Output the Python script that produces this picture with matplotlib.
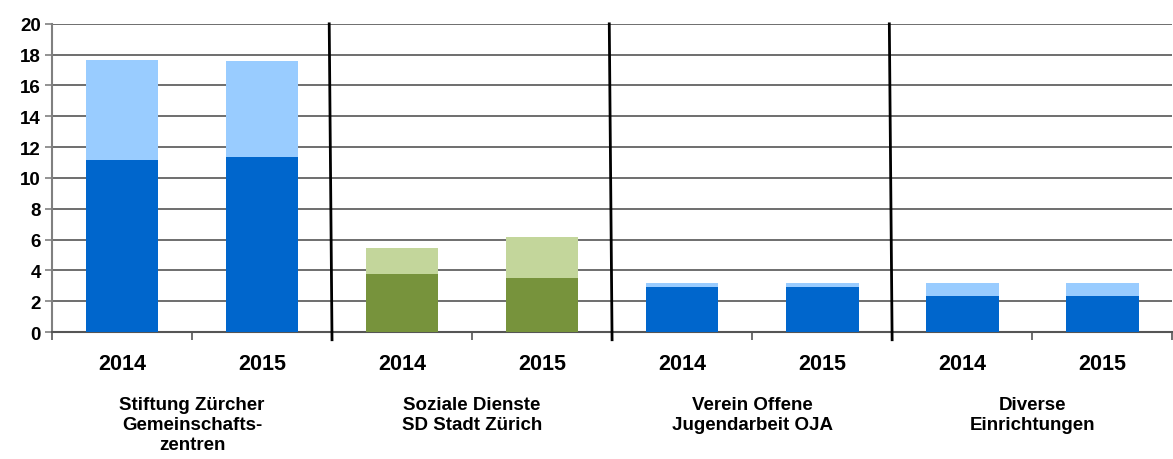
import numpy as np
import matplotlib
matplotlib.use('Agg')
import matplotlib.pyplot as plt

plt.rcParams['font.family'] = ['Liberation Sans', 'DejaVu Sans']
plt.rcParams['font.weight'] = 'bold'

groups = ['Stiftung Zürcher\nGemeinschafts-\nzentren',
          'Soziale Dienste\nSD Stadt Zürich',
          'Verein Offene\nJugendarbeit OJA',
          'Diverse\nEinrichtungen']
years = ['2014', '2015']
# lower and total values per bar (in order of groups, years)
lower = [11.15, 11.35, 3.75, 3.5, 2.92, 2.92, 2.37, 2.35]
total = [17.65, 17.62, 5.45, 6.15, 3.2, 3.2, 3.18, 3.18]

dark = ['#0066CC', '#0066CC', '#77933C', '#77933C', '#0066CC', '#0066CC', '#0066CC', '#0066CC']
light = ['#99CCFF', '#99CCFF', '#C3D69B', '#C3D69B', '#99CCFF', '#99CCFF', '#99CCFF', '#99CCFF']

lower = np.array(lower)
total = np.array(total)
upper = total - lower
x = np.arange(len(lower))

fig = plt.figure(figsize=(11.73, 4.6), dpi=100, facecolor='w')
ax = fig.add_axes([0.0443, 0.276, 0.955, 0.67])

ax.bar(x, lower, width=0.52, color=dark, zorder=3)
ax.bar(x, upper, bottom=lower, width=0.52, color=light, zorder=3)

ax.set_xlim(-0.5, len(x) - 0.5)
ax.set_ylim(0, 20)
ax.set_yticks(np.arange(0, 21, 2))
ax.yaxis.grid(True, color='#555555', linewidth=1.2, zorder=0)
ax.tick_params(axis='y', labelsize=13.5, length=5, color='#808080', width=1.2, pad=3)

for s in ['top', 'right']:
    ax.spines[s].set_visible(False)
ax.spines['left'].set_color('#808080')
ax.spines['bottom'].set_color('#555555')
ax.spines['left'].set_linewidth(1.5)
ax.spines['bottom'].set_linewidth(1.5)

ax.set_xticks(x)
ax.set_xticklabels(years * len(groups), fontsize=15.5)
ax.tick_params(axis='x', length=0, pad=15)
ax.set_xticks(np.arange(-0.5, len(x), 1), minor=True)
ax.tick_params(axis='x', which='minor', length=6, color='#555555', width=1.2)

for b in [1.5, 3.5, 5.5]:
    ax.plot([b - 0.02, b], [20, -0.5], color='black', linewidth=2, clip_on=False, zorder=4)

for i, g in enumerate(groups):
    ax.annotate(g, xy=(2 * i + 0.5, 0), xycoords=('data', 'axes fraction'),
                xytext=(0, -46), textcoords='offset points', ha='center', va='top',
                fontsize=13.5, linespacing=1.25)

plt.savefig('out.png', dpi=100, facecolor='w')
